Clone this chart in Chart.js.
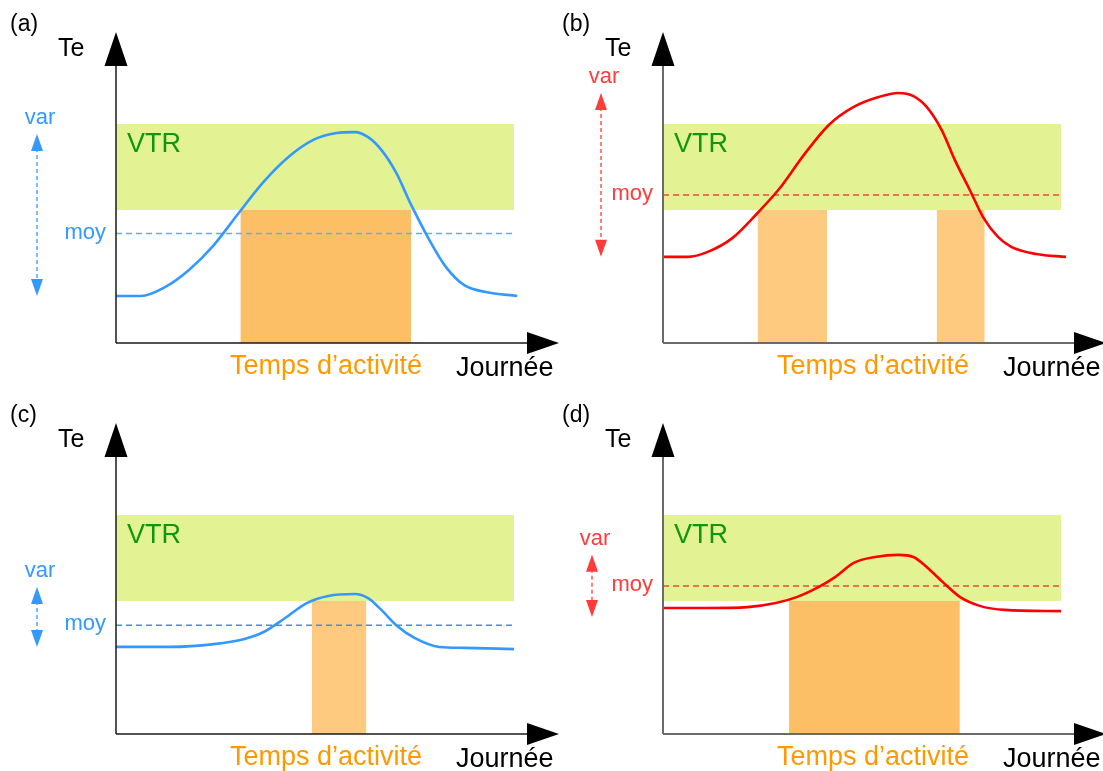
<!DOCTYPE html>
<html>
<head>
<meta charset="utf-8">
<script src="https://cdn.jsdelivr.net/npm/chart.js"></script>
<style>
  html, body { margin: 0; padding: 0; background: #fff; }
  body { width: 1103px; height: 771px; position: relative; overflow: hidden; }
  .panel { position: absolute; width: 560px; height: 390px; }
</style>
</head>
<body>
<div class="panel" style="left:0;top:0"><canvas id="pa" width="560" height="390"></canvas></div>
<div class="panel" style="left:547px;top:0"><canvas id="pb" width="560" height="390"></canvas></div>
<div class="panel" style="left:0;top:391px"><canvas id="pc" width="560" height="390"></canvas></div>
<div class="panel" style="left:547px;top:391px"><canvas id="pd" width="560" height="390"></canvas></div>

<script>
    // x: hour of the day, y: Te (arbitrary units, 0 = x axis, 100 = arrow tip)
    const VTR_RANGE = [42.8, 70.4];

    const hoursA = [0, 1.5, 2.9, 4.4, 5.9, 7.4, 8.9, 10.4, 11.9, 13.3, 14.4, 15.2, 16.0, 16.9, 17.8, 18.9, 19.9, 21.0, 22.3, 24.2];
    const teA = [15.1, 15.1, 17.8, 23.5, 31.5, 41.8, 51.8, 59.8, 65.3, 67.5, 67.8, 66.2, 62.1, 54.7, 44.4, 33.1, 24.4, 18.6, 16.4, 15.1];
    const activityA = [[7.5, 17.8]];
    const moyA = 35.2;
    const varA = [15.1, 67.2];

    const hoursB = [0, 1.5, 2.7, 4.2, 5.7, 7.0, 8.5, 10.0, 11.5, 13.0, 14.2, 15.1, 15.9, 16.8, 17.6, 18.5, 19.3, 20.2, 21.0, 22.5, 24.3];
    const teB = [27.7, 27.7, 29.3, 33.8, 41.8, 49.5, 60.5, 70.1, 75.9, 79.1, 80.4, 79.4, 75.9, 68.5, 58.8, 49.2, 40.5, 34.1, 30.9, 28.6, 27.7];
    const activityB = [[5.7, 9.9], [16.5, 19.4]];
    const moyB = 47.6;
    const varB = [27.7, 80.4];

    const hoursC = [0, 3.3, 5.9, 7.7, 8.9, 10.2, 11.5, 12.8, 14.4, 15.2, 16.0, 16.9, 18.0, 19.5, 21.0, 24.0];
    const teC = [28.0, 28.0, 28.9, 30.5, 32.8, 37.3, 42.1, 44.4, 45.0, 43.7, 39.9, 35.0, 30.9, 28.0, 27.7, 27.3];
    const activityC = [[11.8, 15.1]];
    const moyC = 35.0;
    const varC = [28.0, 47.3];

    const hoursD = [0, 2.7, 5.1, 6.8, 8.1, 9.4, 10.4, 11.5, 12.8, 14.2, 15.1, 15.9, 16.8, 17.9, 19.1, 20.6, 24.0];
    const teD = [40.5, 40.5, 40.8, 42.1, 44.1, 47.3, 50.5, 55.0, 56.9, 57.6, 56.9, 53.7, 49.2, 44.1, 41.2, 39.9, 39.5];
    const activityD = [[7.6, 17.9]];
    const moyD = 47.6;
    const varD = [37.6, 57.6];

    const FONT = '"Liberation Sans", Arial, sans-serif';
    const BLUE = '#3399ff';
    const RED = '#ff0000';
    const RED_TEXT = '#ff3b3b';
    const VTR_FILL = '#e3f393';
    const VTR_GREEN = '#0f980f';
    const ORANGE_DARK = '#fdbf66';
    const ORANGE_LIGHT = '#fdca80';
    const ORANGE_TEXT = '#ff9900';

    function pts(xs, ys) {
        return xs.map((x, i) => ({ x: x, y: ys[i] }));
    }

    function fillTriangle(ctx, p1, p2, p3) {
        ctx.beginPath();
        ctx.moveTo(p1[0], p1[1]);
        ctx.lineTo(p2[0], p2[1]);
        ctx.lineTo(p3[0], p3[1]);
        ctx.closePath();
        ctx.fill();
    }

    // axes with arrow heads, var arrow and all labels
    const decoPlugin = {
        id: 'deco',
        afterDatasetsDraw(chart, args, o) {
            const ctx = chart.ctx;
            const a = chart.chartArea;
            const y = chart.scales.y;
            ctx.save();

            // axes
            ctx.strokeStyle = o.axisColor;
            ctx.lineWidth = o.axisWidth;
            ctx.beginPath();
            ctx.moveTo(a.left, a.bottom);
            ctx.lineTo(a.left, a.top + 30);
            ctx.moveTo(a.left, a.bottom);
            ctx.lineTo(a.right + 16, a.bottom);
            ctx.stroke();
            ctx.fillStyle = '#000';
            fillTriangle(ctx, [a.left, a.top], [a.left - 11.5, a.top + 34], [a.left + 11.5, a.top + 34]);
            fillTriangle(ctx, [a.right + 45, a.bottom], [a.right + 13, a.bottom - 11], [a.right + 13, a.bottom + 11]);

            // var arrow
            const vx = a.left - o.varOffset;
            const yLo = y.getPixelForValue(o.varRange[0]);
            const yHi = y.getPixelForValue(o.varRange[1]);
            ctx.strokeStyle = o.varColor;
            ctx.lineWidth = 1.3;
            ctx.setLineDash([4, 3]);
            ctx.beginPath();
            ctx.moveTo(vx, yHi + 14);
            ctx.lineTo(vx, yLo - 14);
            ctx.stroke();
            ctx.setLineDash([]);
            ctx.fillStyle = o.varColor;
            fillTriangle(ctx, [vx, yHi], [vx - 6, yHi + 17], [vx + 6, yHi + 17]);
            fillTriangle(ctx, [vx, yLo], [vx - 6, yLo - 17], [vx + 6, yLo - 17]);

            // texts
            ctx.textBaseline = 'middle';
            ctx.fillStyle = '#000';
            ctx.font = '23px ' + FONT;
            ctx.textAlign = 'left';
            ctx.fillText(o.label, a.left - o.labelDx, a.top - 7);
            ctx.font = '25px ' + FONT;
            ctx.fillText('Te', a.left - 58, a.top + 17);

            ctx.fillStyle = VTR_GREEN;
            ctx.font = '27px ' + FONT;
            ctx.fillText('VTR', a.left + 11, y.getPixelForValue(VTR_RANGE[1]) + 20);

            ctx.fillStyle = o.varColor;
            ctx.font = '22px ' + FONT;
            ctx.textAlign = 'center';
            ctx.fillText('var', vx + 3, yHi - 16);
            ctx.textAlign = 'right';
            ctx.fillText('moy', a.left - 10, y.getPixelForValue(o.moy) - 1);

            ctx.textBaseline = 'alphabetic';
            ctx.font = '27px ' + FONT;
            ctx.textAlign = 'center';
            ctx.fillStyle = ORANGE_TEXT;
            ctx.fillText('Temps d\u2019activit\u00e9', a.left + 210, a.bottom + 31);
            ctx.textAlign = 'left';
            ctx.fillStyle = '#000';
            ctx.fillText('Journ\u00e9e', a.left + 340, a.bottom + 33);
            ctx.restore();
        }
    };

    function makePanel(id, p) {
        const datasets = [];
        datasets.push({
            data: pts(p.hours, p.te),
            borderColor: p.curveColor,
            borderWidth: 2.6,
            cubicInterpolationMode: 'monotone',
            pointRadius: 0,
            fill: false,
            clip: false
        });
        datasets.push({
            data: [{ x: 0, y: p.moy }, { x: 24, y: p.moy }],
            borderColor: p.moyColor,
            borderWidth: 1.5,
            borderDash: [6, 4],
            pointRadius: 0,
            fill: false
        });
        p.activity.forEach(span => {
            datasets.push({
                data: [{ x: span[0], y: VTR_RANGE[0] }, { x: span[1], y: VTR_RANGE[0] }],
                borderWidth: 0,
                pointRadius: 0,
                backgroundColor: p.orange,
                fill: 'origin'
            });
        });
        datasets.push({
            data: [{ x: 0, y: VTR_RANGE[1] }, { x: 24, y: VTR_RANGE[1] }],
            borderWidth: 0,
            pointRadius: 0,
            backgroundColor: VTR_FILL,
            fill: { value: VTR_RANGE[0] }
        });

        return new Chart(document.getElementById(id), {
            type: 'line',
            data: { datasets: datasets },
            options: {
                responsive: false,
                animation: false,
                events: [],
                layout: { padding: { left: 116, top: 32, right: 46, bottom: 47 } },
                scales: {
                    x: { type: 'linear', min: 0, max: 24, display: false },
                    y: { type: 'linear', min: 0, max: 100, display: false }
                },
                plugins: {
                    legend: { display: false },
                    tooltip: { enabled: false },
                    deco: {
                        label: p.label,
                        labelDx: p.labelDx,
                        axisColor: p.axisColor,
                        axisWidth: p.axisWidth,
                        varColor: p.varColor,
                        varOffset: p.varOffset,
                        varRange: p.varRange,
                        moy: p.moy
                    }
                }
            },
            plugins: [decoPlugin]
        });
    }

    makePanel('pa', {
        label: '(a)', labelDx: 106, hours: hoursA, te: teA, activity: activityA, moy: moyA, varRange: varA,
        curveColor: BLUE, moyColor: '#5caeff', varColor: BLUE, orange: ORANGE_DARK,
        axisColor: '#1a1a1a', axisWidth: 1.5, varOffset: 79
    });
    makePanel('pb', {
        label: '(b)', labelDx: 101, hours: hoursB, te: teB, activity: activityB, moy: moyB, varRange: varB,
        curveColor: RED, moyColor: '#f04a3a', varColor: RED_TEXT, orange: ORANGE_LIGHT,
        axisColor: '#6a6a6a', axisWidth: 2, varOffset: 62
    });
    makePanel('pc', {
        label: '(c)', labelDx: 106, hours: hoursC, te: teC, activity: activityC, moy: moyC, varRange: varC,
        curveColor: BLUE, moyColor: '#3f8ee8', varColor: BLUE, orange: ORANGE_LIGHT,
        axisColor: '#1a1a1a', axisWidth: 1.5, varOffset: 79
    });
    makePanel('pd', {
        label: '(d)', labelDx: 101, hours: hoursD, te: teD, activity: activityD, moy: moyD, varRange: varD,
        curveColor: RED, moyColor: '#f04a3a', varColor: RED_TEXT, orange: ORANGE_DARK,
        axisColor: '#6a6a6a', axisWidth: 2, varOffset: 71
    });
</script>
</body>
</html>
